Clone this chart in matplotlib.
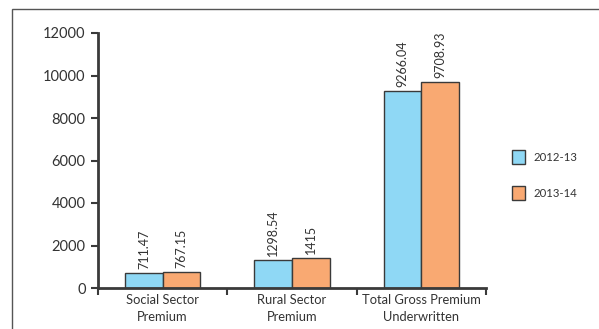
import matplotlib.pyplot as plt
import matplotlib.patches as mpatches
import numpy as np

plt.rcParams['font.family'] = ['Lato', 'DejaVu Sans']

categories = ["Social Sector\nPremium", "Rural Sector\nPremium", "Total Gross Premium\nUnderwritten"]
series_names = ["2012-13", "2013-14"]
values_2012 = [711.47, 1298.54, 9266.04]
values_2013 = [767.15, 1415, 9708.93]
value_labels_2012 = ["711.47", "1298.54", "9266.04"]
value_labels_2013 = ["767.15", "1415", "9708.93"]

blue = "#8fd8f5"
orange = "#f9a972"
edge = "#3a3a3a"
text_col = "#333333"

fig = plt.figure(figsize=(5.99, 3.29), dpi=100)
ax = fig.add_axes([98 / 599, 1 - 288 / 329, (486 - 98) / 599, (288 - 33) / 329])

# outer frame
fig.patches.append(mpatches.Rectangle((12 / 599, -0.2), 1.2, 1.2 - 9 / 329,
                                      transform=fig.transFigure, fill=False,
                                      edgecolor="#555555", lw=1.0))

x = np.arange(len(categories))
w = 0.29
b1 = ax.bar(x - w / 2, values_2012, w, color=blue, edgecolor=edge, lw=1.0, label=series_names[0])
b2 = ax.bar(x + w / 2, values_2013, w, color=orange, edgecolor=edge, lw=1.0, label=series_names[1])

for bars, labels in ((b1, value_labels_2012), (b2, value_labels_2013)):
    for rect, lab in zip(bars, labels):
        ax.annotate(lab, (rect.get_x() + rect.get_width() / 2, rect.get_height()),
                    xytext=(0, 3), textcoords="offset points", rotation=90,
                    ha="center", va="bottom", fontsize=9, color=text_col)

ax.set_xlim(-0.5, len(categories) - 0.5)
ax.set_ylim(0, 12000)
ax.set_yticks(range(0, 12001, 2000))
ax.tick_params(axis="y", length=5, width=1.5, color=edge, labelsize=10.5, labelcolor=text_col, pad=4)

ax.set_xticks(x)
ax.set_xticklabels(categories, fontsize=9.3, color=text_col, linespacing=1.5)
ax.tick_params(axis="x", length=0, pad=4)
ax.set_xticks(np.arange(-0.5, len(categories)), minor=True)
ax.tick_params(axis="x", which="minor", length=5, width=1.5, color=edge)

for s in ("top", "right"):
    ax.spines[s].set_visible(False)
for s in ("left", "bottom"):
    ax.spines[s].set_color(edge)
    ax.spines[s].set_linewidth(2)

ax.legend(loc="upper left", bbox_to_anchor=(1.04, 0.58), frameon=False,
          fontsize=8.2, handlelength=1.2, handleheight=1.5, labelspacing=1.9,
          handletextpad=0.7, labelcolor=text_col)

fig.savefig("out.png", dpi=100)
